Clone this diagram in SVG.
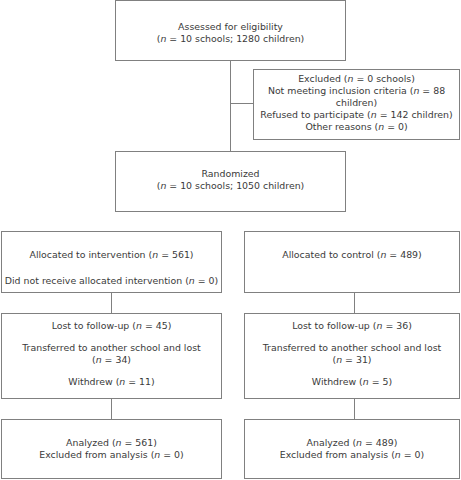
<svg xmlns="http://www.w3.org/2000/svg" width="461" height="480" viewBox="0 0 461 480">
<style>
.box{fill:#fff;stroke:#808080;stroke-width:1}
.ln{stroke:#808080;stroke-width:1;fill:none}
text{font-family:"DejaVu Sans",Verdana,sans-serif;font-size:9.4px;fill:#3a3a3a;text-anchor:middle}
.i{font-style:italic}
</style>
<rect width="461" height="480" fill="#fff"/>
<g id="connectors">
<path class="ln" d="M230.5 60.5V151.5M230.5 103.5H253.5"/>
<path class="ln" d="M111.5 292.5V313.5M111.5 398.5V419.5"/>
<path class="ln" d="M354.5 292.5V313.5M354.5 398.5V419.5"/>
</g>
<g id="assessed">
<rect class="box" x="115.5" y="0.5" width="230" height="60"/>
<text x="230.5" y="30">Assessed for eligibility</text>
<text x="230.5" y="42">(<tspan class="i">n</tspan> = 10 schools; 1280 children)</text>
</g>
<g id="excluded">
<rect class="box" x="253.5" y="69.5" width="206" height="70"/>
<text x="356.5" y="82">Excluded (<tspan class="i">n</tspan> = 0 schools)</text>
<text x="356.5" y="94">Not meeting inclusion criteria (<tspan class="i">n</tspan> = 88</text>
<text x="356.5" y="106">children)</text>
<text x="356.5" y="118">Refused to participate (<tspan class="i">n</tspan> = 142 children)</text>
<text x="356.5" y="130">Other reasons (<tspan class="i">n</tspan> = 0)</text>
</g>
<g id="randomized">
<rect class="box" x="115.5" y="151.5" width="230" height="60"/>
<text x="230.5" y="177">Randomized</text>
<text x="230.5" y="189">(<tspan class="i">n</tspan> = 10 schools; 1050 children)</text>
</g>
<g id="alloc-int">
<rect class="box" x="1.5" y="231.5" width="220" height="61"/>
<text x="111.5" y="258">Allocated to intervention (<tspan class="i">n</tspan> = 561)</text>
<text x="111.5" y="284">Did not receive allocated intervention (<tspan class="i">n</tspan> = 0)</text>
</g>
<g id="alloc-ctl">
<rect class="box" x="244.5" y="231.5" width="215" height="61"/>
<text x="352" y="258">Allocated to control (<tspan class="i">n</tspan> = 489)</text>
</g>
<g id="lost-int">
<rect class="box" x="1.5" y="313.5" width="220" height="85"/>
<text x="111.5" y="329">Lost to follow-up (<tspan class="i">n</tspan> = 45)</text>
<text x="111.5" y="351">Transferred to another school and lost</text>
<text x="111.5" y="363">(<tspan class="i">n</tspan> = 34)</text>
<text x="111.5" y="385">Withdrew (<tspan class="i">n</tspan> = 11)</text>
</g>
<g id="lost-ctl">
<rect class="box" x="244.5" y="313.5" width="215" height="85"/>
<text x="352" y="329">Lost to follow-up (<tspan class="i">n</tspan> = 36)</text>
<text x="352" y="351">Transferred to another school and lost</text>
<text x="352" y="363">(<tspan class="i">n</tspan> = 31)</text>
<text x="352" y="385">Withdrew (<tspan class="i">n</tspan> = 5)</text>
</g>
<g id="analyzed-int">
<rect class="box" x="1.5" y="419.5" width="220" height="59"/>
<text x="111.5" y="446">Analyzed (<tspan class="i">n</tspan> = 561)</text>
<text x="111.5" y="458">Excluded from analysis (<tspan class="i">n</tspan> = 0)</text>
</g>
<g id="analyzed-ctl">
<rect class="box" x="244.5" y="419.5" width="215" height="59"/>
<text x="352" y="446">Analyzed (<tspan class="i">n</tspan> = 489)</text>
<text x="352" y="458">Excluded from analysis (<tspan class="i">n</tspan> = 0)</text>
</g>
</svg>
